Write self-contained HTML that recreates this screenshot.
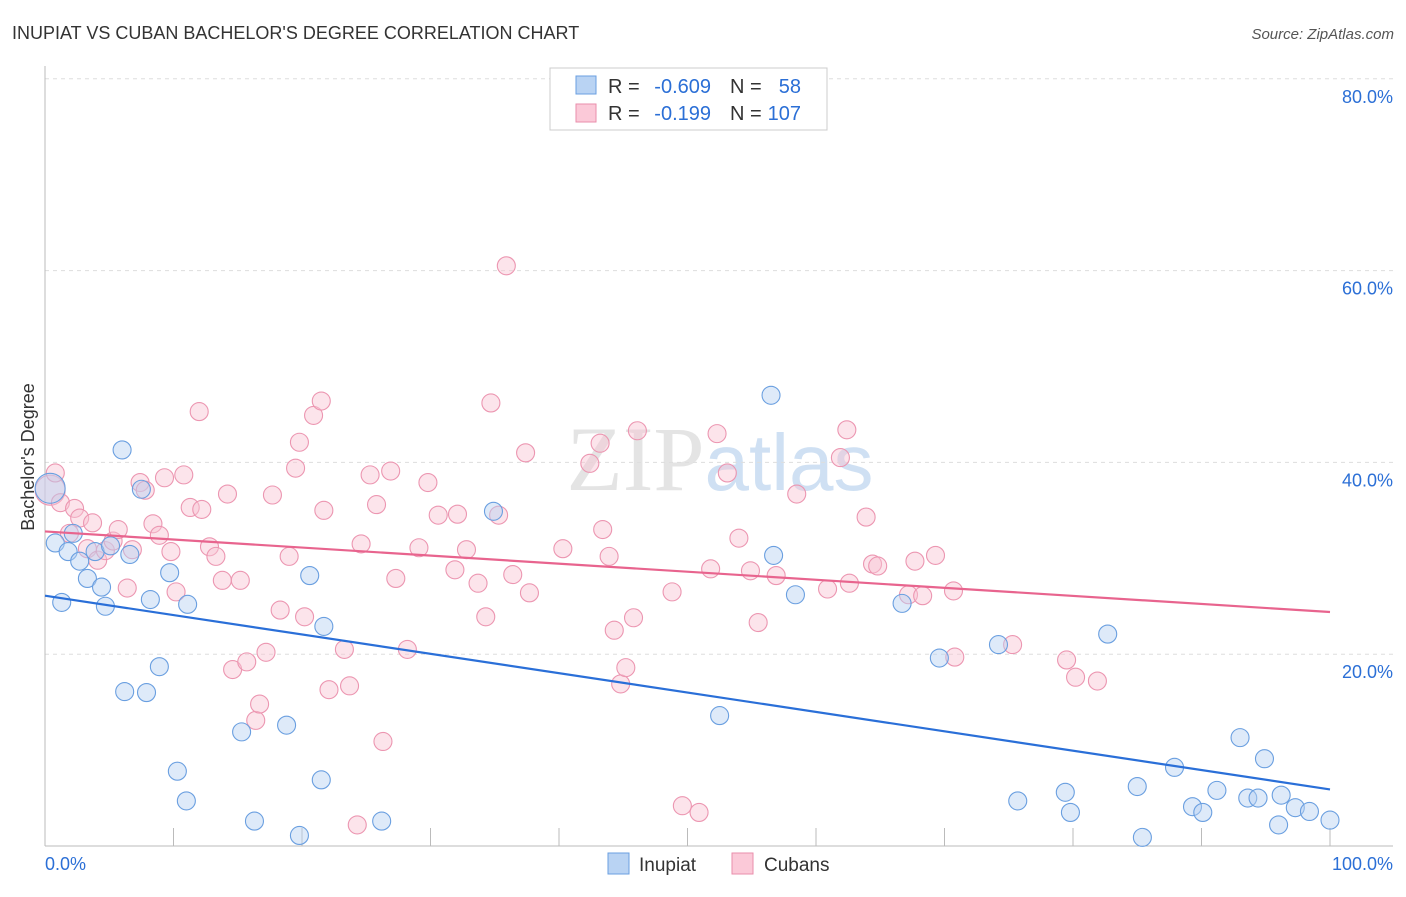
<!DOCTYPE html>
<html><head><meta charset="utf-8"><style>
body{margin:0;background:#fff;font-family:"Liberation Sans",sans-serif;}
svg text{font-family:"Liberation Sans",sans-serif;}
</style></head><body>
<svg id="chart" width="1406" height="892" xmlns="http://www.w3.org/2000/svg">
<text x="12" y="39" font-size="18" fill="#333">INUPIAT VS CUBAN BACHELOR'S DEGREE CORRELATION CHART</text>
<text x="1394" y="39" font-size="15" fill="#555" font-style="italic" text-anchor="end">Source: ZipAtlas.com</text>
<text x="720" y="490" font-size="92" fill="#e4e4e4" text-anchor="middle"><tspan font-family="Liberation Serif">ZIP</tspan><tspan fill="#cfe0f3" font-size="80">atlas</tspan></text>
<g id="grid"></g><g id="axes"></g><g id="pts"></g><g id="lines"></g>
<text transform="translate(34,457) rotate(-90)" font-size="18" fill="#333" text-anchor="middle">Bachelor's Degree</text>
<g>
<rect x="550" y="68" width="277" height="62" fill="#fff" stroke="#ccc"/>
<rect x="576" y="76" width="20" height="18" fill="#b9d3f3" stroke="#6a9fe0"/>
<rect x="576" y="104" width="20" height="18" fill="#fbc9d8" stroke="#ea8eab"/>
<text x="608" y="93" font-size="20" fill="#333">R =</text>
<text x="711" y="93" font-size="20" fill="#2b6fd6" text-anchor="end">-0.609</text>
<text x="730" y="93" font-size="20" fill="#333">N =</text>
<text x="801" y="93" font-size="20" fill="#2b6fd6" text-anchor="end">58</text>
<text x="608" y="120" font-size="20" fill="#333">R =</text>
<text x="711" y="120" font-size="20" fill="#2b6fd6" text-anchor="end">-0.199</text>
<text x="730" y="120" font-size="20" fill="#333">N =</text>
<text x="801" y="120" font-size="20" fill="#2b6fd6" text-anchor="end">107</text>
</g>
<g>
<rect x="608" y="853" width="21" height="21" fill="#b9d3f3" stroke="#6a9fe0"/>
<text x="639" y="871" font-size="19" fill="#333">Inupiat</text>
<rect x="732" y="853" width="21" height="21" fill="#fbc9d8" stroke="#ea8eab"/>
<text x="764" y="871" font-size="19" fill="#333">Cubans</text>
</g>
</svg>
<script>
const yTicks=[20,40,60,80];
const blueX=[0.4,0.8,1.3,1.8,2.2,2.7,3.3,3.9,4.4,4.7,5.1,6.0,6.2,6.6,7.5,7.9,8.2,8.9,9.7,10.3,11.0,11.1,15.3,16.3,18.8,19.8,20.6,21.5,21.7,26.2,34.9,52.5,56.5,56.7,58.4,66.7,69.6,74.2,75.7,79.4,79.8,82.7,85.0,85.4,87.9,89.3,90.1,91.2,93.0,93.6,94.4,94.9,96.0,96.2,97.3,98.4,100];
const blueY=[37.3,31.6,25.4,30.7,32.6,29.7,27.9,30.7,27.0,25.0,31.3,41.3,16.1,30.4,37.2,16.0,25.7,18.7,28.5,7.8,4.7,25.2,11.9,2.6,12.6,1.1,28.2,6.9,22.9,2.6,34.9,13.6,47.0,30.3,26.2,25.3,19.6,21.0,4.7,5.6,3.5,22.1,6.2,0.9,8.2,4.1,3.5,5.8,11.3,5.0,5.0,9.1,2.2,5.3,4.0,3.6,2.7];
const pinkX=[0.4,0.8,1.2,1.9,2.3,2.7,3.3,3.7,4.1,4.7,5.3,5.7,6.4,6.8,7.4,7.8,8.4,8.9,9.3,9.8,10.2,10.8,11.3,12.0,12.2,12.8,13.3,13.8,14.2,14.6,15.2,15.7,16.4,16.7,17.2,17.7,18.3,19.0,19.5,19.8,20.2,20.9,21.5,21.7,22.1,23.3,23.7,24.3,24.6,25.3,25.8,26.3,26.9,27.3,28.2,29.1,29.8,30.6,32.1,31.9,32.8,33.7,34.3,34.7,35.3,35.9,36.4,37.4,37.7,40.3,42.4,43.2,43.4,43.9,44.3,44.8,45.2,45.8,46.1,48.8,49.6,50.9,51.8,52.3,53.1,54.0,54.9,55.5,56.9,58.5,60.9,61.9,62.4,62.6,63.9,64.4,64.8,67.2,67.7,68.3,69.3,70.7,70.8,75.3,79.5,80.2,81.9];
const pinkY=[37.1,38.9,35.8,32.6,35.2,34.2,31.0,33.7,29.8,30.8,31.8,33.0,26.9,30.9,37.9,37.1,33.6,32.4,38.4,30.7,26.5,38.7,35.3,45.3,35.1,31.2,30.2,27.7,36.7,18.4,27.7,19.2,13.1,14.8,20.2,36.6,24.6,30.2,39.4,42.1,23.9,44.9,46.4,35.0,16.3,20.5,16.7,2.2,31.5,38.7,35.6,10.9,39.1,27.9,20.5,31.1,37.9,34.5,34.6,28.8,30.9,27.4,23.9,46.2,34.5,60.5,28.3,41.0,26.4,31.0,39.9,42.0,33.0,30.2,22.5,16.9,18.6,23.8,43.3,26.5,4.2,3.5,28.9,43.0,38.9,32.1,28.7,23.3,28.2,36.7,26.8,40.5,43.4,27.4,34.3,29.4,29.2,26.2,29.7,26.1,30.3,26.6,19.7,21.0,19.4,17.6,17.2];
const blueTrend=[26.1,5.9];
const pinkTrend=[32.8,24.4];
const NS="http://www.w3.org/2000/svg";
const X=v=>45+v*12.85;
const Y=v=>846-v*9.59;
function mk(t,a,p){const e=document.createElementNS(NS,t);for(const k in a)e.setAttribute(k,a[k]);document.getElementById(p).appendChild(e);return e;}
yTicks.forEach(t=>{
 const l=mk('line',{x1:45,x2:1393,y1:Y(t),y2:Y(t),stroke:'#ddd','stroke-dasharray':'4,4'},'grid');
 
 
 const tx=mk('text',{x:1393,y:Y(t)+24,'font-size':18,fill:'#2b6fd6','text-anchor':'end'},'axes');
 tx.textContent=t.toFixed(1)+'%';
 
 
});
mk('line',{x1:45,x2:45,y1:66,y2:846,stroke:'#bbb'},'axes');
mk('line',{x1:45,x2:1393,y1:846,y2:846,stroke:'#bbb'},'axes');
for(let i=1;i<=10;i++){mk('line',{x1:X(i*10),x2:X(i*10),y1:828,y2:846,stroke:'#bbb'},'axes');}
const x0=mk('text',{x:45,y:870,'font-size':18,fill:'#2b6fd6'},'axes');x0.textContent='0.0%';


const x1=mk('text',{x:1393,y:870,'font-size':18,fill:'#2b6fd6','text-anchor':'end'},'axes');x1.textContent='100.0%';


function dots(xs,ys,fill,stroke,name){xs.forEach((x,i)=>{
 const c=mk('circle',{cx:X(x),cy:Y(ys[i]),r:i===0?15:9,fill:fill,'fill-opacity':0.45,stroke:stroke,'stroke-width':1.1},'pts');
 
 
});}
dots(pinkX,pinkY,'#f9c3d3','#ec96b1','cubans-point');
dots(blueX,blueY,'#b5d0f2','#6a9fe0','inupiat-point');
const bl=mk('line',{x1:X(0),y1:Y(blueTrend[0]),x2:X(100),y2:Y(blueTrend[1]),stroke:'#2a6fd8','stroke-width':2.2},'lines');


const pl=mk('line',{x1:X(0),y1:Y(pinkTrend[0]),x2:X(100),y2:Y(pinkTrend[1]),stroke:'#e8648e','stroke-width':2.2},'lines');


</script>
</body></html>
